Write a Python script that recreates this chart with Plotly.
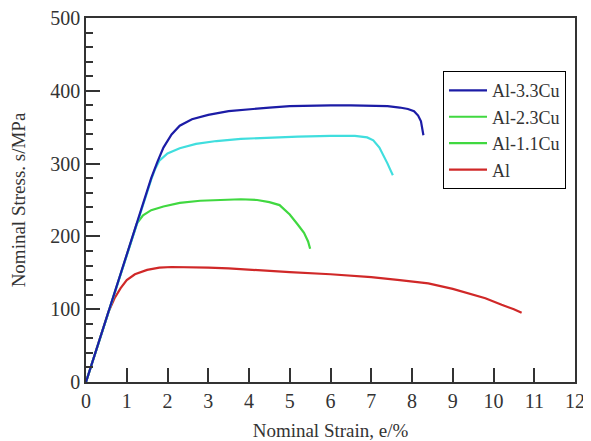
import plotly.graph_objects as go

# Al-3.3Cu
e_33 = [0, 0.5, 1.0, 1.4, 1.6, 1.75, 1.9, 2.1, 2.3, 2.6, 3.0, 3.5, 4.0, 4.5, 5.0, 5.5, 6.0, 6.5, 7.0, 7.4, 7.7, 7.9, 8.05, 8.15, 8.22, 8.26, 8.28]
s_33 = [0, 87, 175, 245, 280, 302, 322, 340, 352, 361, 367, 372, 375, 377, 379, 380, 380, 380, 380, 379, 377, 375, 372, 366, 358, 348, 339]
# Al-2.3Cu
e_23 = [0, 0.5, 1.0, 1.4, 1.6, 1.7, 1.8, 2.0, 2.3, 2.7, 3.2, 3.8, 4.5, 5.2, 6.0, 6.6, 6.9, 7.05, 7.2, 7.3, 7.4, 7.48, 7.53]
s_23 = [0, 87, 175, 245, 278, 293, 304, 314, 321, 327, 331, 334, 336, 337, 338, 338, 336, 332, 322, 312, 300, 290, 284]
# Al-1.1Cu
e_11 = [0, 0.5, 1.0, 1.15, 1.25, 1.4, 1.6, 1.9, 2.3, 2.8, 3.3, 3.8, 4.2, 4.5, 4.75, 5.0, 5.2, 5.35, 5.45, 5.5]
s_11 = [0, 87, 175, 203, 218, 229, 236, 241, 246, 249, 250, 251, 250, 247, 243, 230, 216, 205, 193, 183]
# Al
e_al = [0, 0.3, 0.55, 0.7, 0.85, 1.0, 1.2, 1.5, 1.8, 2.1, 2.5, 3.0, 3.5, 4.0, 5.0, 6.0, 7.0, 7.7, 8.4, 9.0, 9.4, 9.8, 10.2, 10.5, 10.69]
s_al = [0, 52, 96, 115, 129, 140, 148, 154, 157, 158, 158, 157, 156, 154, 151, 148, 144, 140, 135.5, 128, 122, 115, 106, 100, 95]

series_names = ["Al-3.3Cu", "Al-2.3Cu", "Al-1.1Cu", "Al"]
curve_colors = ["#1c1ca6", "#40dede", "#40d840", "#d02828"]
legend_colors = ["#1c1ca6", "#40d840", "#40d840", "#d02828"]
data = [(e_33, s_33), (e_23, s_23), (e_11, s_11), (e_al, s_al)]

fig = go.Figure()
# draw Al first so blue ends on top
for i in [3, 2, 1, 0]:
    x, y = data[i]
    fig.add_trace(go.Scatter(x=x, y=y, mode="lines", line=dict(color=curve_colors[i], width=2.2),
                             showlegend=False, hoverinfo="skip"))
for name, c in zip(series_names, legend_colors):
    fig.add_trace(go.Scatter(x=[None], y=[None], mode="lines", name=name,
                             line=dict(color=c, width=2.2)))

font = "Liberation Serif, Times New Roman, serif"
fig.update_layout(
    width=583, height=433,
    margin=dict(l=78, r=16, t=10, b=59),
    paper_bgcolor="white", plot_bgcolor="white",
    font=dict(family=font, size=20, color="#333333"),
    legend=dict(x=0.9816, xanchor="right", y=0.854, yanchor="top",
                bordercolor="black", borderwidth=1, bgcolor="white",
                font=dict(size=18, color="#333333"), tracegroupgap=0,
                itemwidth=38),
    xaxis=dict(range=[0, 12], tickvals=list(range(13)), ticks="inside", ticklen=14,
               tickwidth=1.5, tickcolor="#333333", showline=True, linecolor="#333333",
               linewidth=1.5, mirror=True, showgrid=False, zeroline=False, automargin=False,
               ticklabeloverflow="allow",
               title=dict(text="Nominal Strain, e/%", standoff=13, font=dict(size=19))),
    yaxis=dict(range=[0, 500], tickvals=[0, 100, 200, 300, 400, 500], ticks="inside", ticklen=14,
               tickwidth=1.5, tickcolor="#333333", showline=True, linecolor="#333333",
               linewidth=1.5, mirror=True, showgrid=False, zeroline=False, automargin=False,
               ticklabeloverflow="allow",
               minor=dict(dtick=20, ticks="inside", ticklen=7, tickwidth=1.5, tickcolor="#333333"),
               title=dict(text="Nominal Stress. s/MPa", standoff=20, font=dict(size=19))),
)
fig.write_html("out.html")
